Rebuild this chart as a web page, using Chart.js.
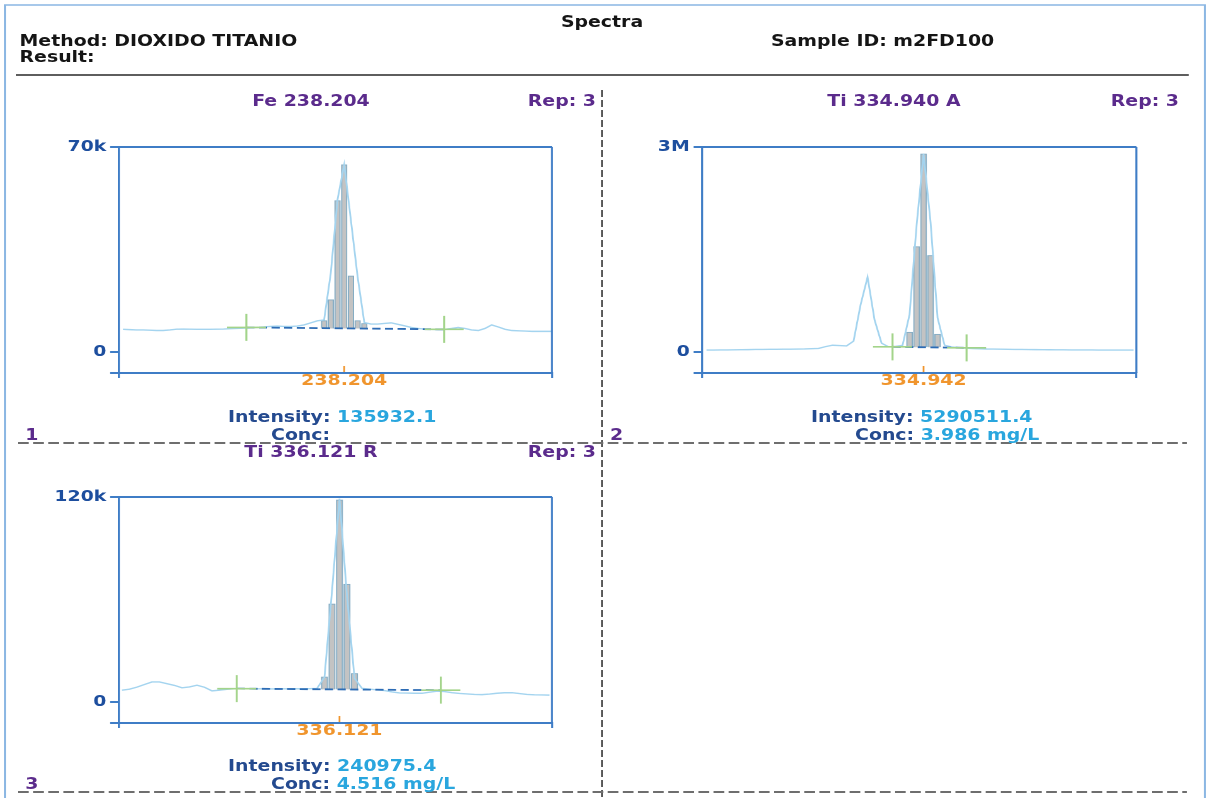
<!DOCTYPE html>
<html>
<head>
<meta charset="utf-8">
<script src="https://cdn.jsdelivr.net/npm/chart.js@4.4.1/dist/chart.umd.min.js"></script>
<style>
  html, body { margin: 0; background: #fff; }
  body { width: 1218px; height: 798px; overflow: hidden; position: relative; }
  /* the report sheet is laid out narrow and stretched sideways like the printout */
  #sheet { position: absolute; left: 0; top: 0; width: 966.7px; height: 798px;
    transform: scaleX(1.26); transform-origin: 0 0;
    font: bold 15px "DejaVu Sans", sans-serif; }
  #rules { position: absolute; left: 0; top: 0; }
  .t { position: absolute; white-space: nowrap; line-height: 16px; }
  .c { transform: translateX(-50%); }
  .r { transform: translateX(-100%); }
  .hd { color: #151515; }
  .pu { color: #5b2b8c; }
  .nv { color: #244a8f; }
  .lb { color: #29a6de; }
  canvas { position: absolute; }
</style>
</head>
<body>
<div id="sheet">
  <svg id="rules" width="967" height="798">
    <path d="M4 800 V5 H956.3 V800" fill="none" stroke="#8bb7e3" stroke-width="1.6"/>
    <line x1="12.7" y1="75" x2="943.5" y2="75" stroke="#5e5e5e" stroke-width="2"/>
    <line x1="477.8" y1="90" x2="477.8" y2="798" stroke="#2a2a2a" stroke-width="1.2" stroke-dasharray="7 3"/>
    <line x1="14.3" y1="443" x2="942" y2="443" stroke="#6e6e6e" stroke-width="2" stroke-dasharray="8.5 3.5"/>
    <line x1="14.3" y1="792" x2="942" y2="792" stroke="#6e6e6e" stroke-width="2" stroke-dasharray="8.5 3.5"/>
  </svg>

  <div class="t hd c" style="left:477.8px;top:14px">Spectra</div>
  <div class="t hd" style="left:15.5px;top:33px">Method: DIOXIDO TITANIO</div>
  <div class="t hd" style="left:15.5px;top:49px">Result:</div>
  <div class="t hd" style="left:611.9px;top:33px">Sample ID: m2FD100</div>

  <div class="t pu c" style="left:246.8px;top:93px">Fe 238.204</div>
  <div class="t pu r" style="left:473px;top:93px">Rep: 3</div>
  <div class="t nv" style="left:181px;top:409px">Intensity: <span class="lb">135932.1</span></div>
  <div class="t nv" style="left:215.1px;top:427px">Conc:</div>
  <div class="t pu" style="left:20px;top:427px">1</div>

  <div class="t pu c" style="left:709.5px;top:93px">Ti 334.940 A</div>
  <div class="t pu r" style="left:935.7px;top:93px">Rep: 3</div>
  <div class="t nv" style="left:643.7px;top:409px">Intensity: <span class="lb">5290511.4</span></div>
  <div class="t nv" style="left:678.6px;top:427px">Conc: <span class="lb">3.986 mg/L</span></div>
  <div class="t pu" style="left:484.1px;top:427px">2</div>

  <div class="t pu c" style="left:246.8px;top:444px">Ti 336.121 R</div>
  <div class="t pu r" style="left:473px;top:444px">Rep: 3</div>
  <div class="t nv" style="left:181px;top:758px">Intensity: <span class="lb">240975.4</span></div>
  <div class="t nv" style="left:215.1px;top:776px">Conc: <span class="lb">4.516 mg/L</span></div>
  <div class="t pu" style="left:20px;top:776px">3</div>

  <canvas id="feChart" width="410" height="260" style="left:40px;top:135px"></canvas>
  <canvas id="tiAChart" width="410" height="260" style="left:502.7px;top:135px"></canvas>
  <canvas id="tiRChart" width="410" height="260" style="left:40px;top:485px"></canvas>
</div>

<script>
const AXIS_BLUE = '#3f7dc6';
const TICK_NAVY = '#1d4e9e';
const PEAK_ORANGE = '#f0952d';
const TRACE_BLUE = '#a4d4ef';
const BASE_BLUE = '#2d6cb5';
const MARK_GREEN = '#a3d48a';

// Fe 238.204 - one intensity per detector pixel, first pixel at feStart
const feStart = -33;
const feTrace = [7800, 7700, 7600, 7600, 7500, 7400, 7400, 7600, 7850, 7900,
  7850, 7800, 7800, 7800, 7850, 7900, 8000, 8100, 8200, 8300,
  8450, 8600, 8800, 8900, 8800, 8800, 8900, 9300, 10000, 10700,
  11000, 27000, 52000, 64000, 45000, 25700, 10100,
  9600, 9600, 9800, 10000, 9500, 9000, 8450, 8100, 7900, 7800,
  7700, 7800, 8100, 8450, 8100, 7600, 7400, 8100, 9300, 8600,
  7800, 7400, 7300, 7200, 7100, 7100, 7100, 7100];
const feBarPixels = [-3, -2, -1, 0, 1, 2, 3];
const feBars = [10800, 17900, 51700, 63900, 26000, 10800, 9800];
const feBarBase = 8100;
const feBaseX = [-14.6, 14.9];
const feBaseY = [8450, 7800];
const feRange = [-33.6, 31.0];
const feYRange = [-7100, 70000];
const feYLabels = ['0', '70k'];
const feCentre = '238.204';

// Ti 334.940 A
const tiAStart = -31;
const tiATrace = [29000, 30000, 31000, 32000, 33000, 35000, 36000, 38000, 39000, 40000,
  41000, 42000, 43000, 44000, 46000, 50000, 53000,
  80000, 100000, 95000, 90000, 160000, 690000, 1097000, 470000, 130000,
  77000, 80000, 100000, 550000, 1850000, 2900000, 1900000, 500000, 100000,
  75000, 65000, 58000, 52000, 48000, 45000, 44000, 42000, 40000, 39000,
  38000, 37000, 36000, 35000, 34000, 33000, 33000, 32000, 32000, 31000,
  31000, 30000, 30000, 30000, 29000, 29000, 29000];
const tiABarPixels = [-2, -1, 0, 1, 2];
const tiABars = [290000, 1544000, 2898000, 1413000, 262000];
const tiABarBase = 70000;
const tiABaseX = [-4.43, 6.14];
const tiABaseY = [77000, 62000];
const tiARange = [-31.6, 30.4];
const tiAYRange = [-306000, 3000000];
const tiAYLabels = ['0', '3M'];
const tiACentre = '334.942';

// Ti 336.121 R
const tiRStart = -29;
const tiRTrace = [7000, 7600, 8800, 10300, 11800, 11800, 10800, 9800, 8400, 8900,
  9900, 8700, 6600, 7000, 7500, 7800, 7900, 7900, 7800, 7800,
  7700, 7800, 7800, 7900, 7800, 7900, 8000,
  14700, 65000, 119000, 62000, 14000, 8100,
  7600, 7200, 6800, 6000, 5400, 5300, 5200, 5200, 5800, 6400,
  6200, 5500, 5100, 4800, 4500, 4400, 4700, 5200, 5500, 5500,
  5000, 4500, 4300, 4200, 4100];
const tiRBarPixels = [-2, -1, 0, 1, 2];
const tiRBars = [14700, 57400, 118300, 69000, 16800];
const tiRBarBase = 7500;
const tiRBaseX = [-13.7, 13.5];
const tiRBaseY = [7900, 7000];
const tiRRange = [-29.4, 28.33];
const tiRYRange = [-12200, 120000];
const tiRYLabels = ['0', '120k'];
const tiRCentre = '336.121';

Chart.defaults.font = { family: '"DejaVu Sans", sans-serif', size: 15, weight: 'bold' };

// closes the plot box and marks the peak pixel on the axis
const framePlugin = {
  id: 'frame',
  afterDraw(chart) {
    const { ctx } = chart;
    const { left, top, right, bottom } = chart.chartArea;
    const x0 = chart.scales.x.getPixelForValue(0);
    ctx.save();
    ctx.strokeStyle = AXIS_BLUE;
    ctx.lineWidth = 2;
    ctx.beginPath();
    ctx.moveTo(left, top);
    ctx.lineTo(right, top);
    ctx.stroke();
    ctx.lineWidth = 1.6;
    ctx.beginPath();
    ctx.moveTo(right, top);
    ctx.lineTo(right, bottom);
    ctx.stroke();
    ctx.strokeStyle = PEAK_ORANGE;
    ctx.lineWidth = 1.4;
    ctx.beginPath();
    ctx.moveTo(x0, bottom - 1);
    ctx.lineTo(x0, bottom - 7);
    ctx.stroke();
    ctx.restore();
  },
};

const makeSpectrum = (canvasId, s, look) => {
  const trace = s.trace.map((y, i) => ({ x: s.start + i, y }));
  const bars = s.barPixels.map((x, i) => ({ x, y: [s.barBase, s.bars[i]] }));
  const base = s.baseX.map((x, i) => ({ x, y: s.baseY[i] }));
  const [xMin, xMax] = s.range;
  const [yMin, yMax] = s.yRange;

  return new Chart(document.getElementById(canvasId), {
    type: 'scatter',
    data: {
      datasets: [
        {
          type: 'bar',
          data: bars,
          backgroundColor: '#c3c3c3',
          borderColor: '#86adc4',
          borderWidth: 1,
          barThickness: look.barWidth,
          order: 4,
        },
        {
          type: 'line',
          data: trace,
          borderColor: TRACE_BLUE,
          borderWidth: 1.4,
          pointRadius: 0,
          tension: 0,
          order: 3,
        },
        {
          type: 'line',
          data: base,
          borderColor: BASE_BLUE,
          borderWidth: 1.8,
          borderDash: [6.5, 3.5],
          pointRadius: 0,
          order: 2,
        },
        {
          data: base,
          showLine: false,
          pointStyle: 'line',
          pointRadius: 15.5,
          pointHoverRadius: 15.5,
          pointBorderColor: MARK_GREEN,
          pointBorderWidth: 1.6,
          order: 1,
        },
        {
          data: base,
          showLine: false,
          pointStyle: 'line',
          pointRotation: 90,
          pointRadius: 13.5,
          pointHoverRadius: 13.5,
          pointBorderColor: MARK_GREEN,
          pointBorderWidth: 1.6,
          order: 0,
        },
      ],
    },
    options: {
      responsive: false,
      animation: false,
      devicePixelRatio: 2,
      events: [],
      layout: {
        autoPadding: false,
        padding: { top: look.padTop, right: look.padRight, left: 0, bottom: 0 },
      },
      plugins: { legend: { display: false }, tooltip: { enabled: false } },
      scales: {
        x: {
          type: 'linear',
          min: xMin,
          max: xMax,
          offset: false,
          afterBuildTicks: (scale) => {
            scale.ticks = [{ value: xMin }, { value: 0 }, { value: xMax }];
          },
          afterFit: (scale) => {
            scale.height = 22;
          },
          border: { color: AXIS_BLUE, width: 2 },
          grid: {
            offset: false,
            drawOnChartArea: false,
            tickLength: 5,
            lineWidth: 1.6,
            color: (c) => (c.tick && c.tick.value === 0 ? 'rgba(0,0,0,0)' : AXIS_BLUE),
          },
          ticks: {
            color: PEAK_ORANGE,
            padding: -6,
            maxRotation: 0,
            autoSkip: false,
            callback: (v) => (v === 0 ? s.centre : ''),
          },
        },
        y: {
          min: yMin,
          max: yMax,
          afterBuildTicks: (scale) => {
            scale.ticks = [{ value: yMin }, { value: 0 }, { value: yMax }];
          },
          afterFit: (scale) => {
            scale.width = 54.4;
          },
          border: { color: AXIS_BLUE, width: 1.6 },
          grid: { offset: false, drawOnChartArea: false, tickLength: 7, lineWidth: 2, color: AXIS_BLUE },
          ticks: {
            color: TICK_NAVY,
            padding: 3,
            autoSkip: false,
            callback: (v) => {
              if (v === 0) return s.yLabels[0];
              if (v === yMax) return s.yLabels[1];
              return '';
            },
          },
        },
      },
    },
    plugins: [framePlugin],
  });
};

makeSpectrum('feChart', {
  start: feStart, trace: feTrace, barPixels: feBarPixels, bars: feBars, barBase: feBarBase,
  baseX: feBaseX, baseY: feBaseY, range: feRange, yRange: feYRange, yLabels: feYLabels, centre: feCentre,
}, { padTop: 10, padRight: 11.9, barWidth: 4.4 });

makeSpectrum('tiAChart', {
  start: tiAStart, trace: tiATrace, barPixels: tiABarPixels, bars: tiABars, barBase: tiABarBase,
  baseX: tiABaseX, baseY: tiABaseY, range: tiARange, yRange: tiAYRange, yLabels: tiAYLabels, centre: tiACentre,
}, { padTop: 11, padRight: 11.1, barWidth: 4.7 });

makeSpectrum('tiRChart', {
  start: tiRStart, trace: tiRTrace, barPixels: tiRBarPixels, bars: tiRBars, barBase: tiRBarBase,
  baseX: tiRBaseX, baseY: tiRBaseY, range: tiRRange, yRange: tiRYRange, yLabels: tiRYLabels, centre: tiRCentre,
}, { padTop: 10, padRight: 11.9, barWidth: 5.0 });
</script>
</body>
</html>
